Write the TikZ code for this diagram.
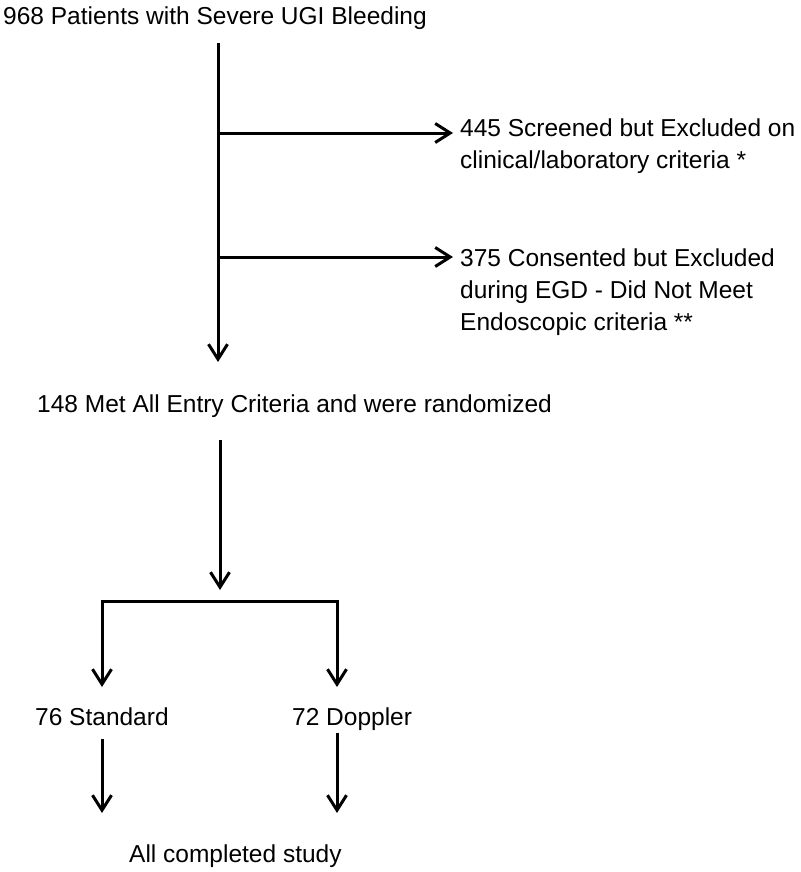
\documentclass[tikz,border=0pt]{standalone}
\usepackage{fontspec}
\setmainfont{Liberation Sans}
\usetikzlibrary{arrows.meta}
\begin{document}
\begin{tikzpicture}[x=1pt,y=-1pt,
  lbl/.style={anchor=base west,inner sep=0pt,font=\fontsize{24.5}{32}\selectfont},
  conn/.style={line width=3pt,line join=miter},
  arr/.style={conn,-{Straight Barb[length=15pt,width=19pt,line width=3pt]}},
  arrboth/.style={conn,{Straight Barb[length=15pt,width=19pt,line width=3pt]}-{Straight Barb[length=15pt,width=19pt,line width=3pt]}}]
\useasboundingbox (0,0) rectangle (800,872);
\fill[white] (0,0) rectangle (800,872);

\node[lbl] (title) at (3,25) {968 Patients with Severe UGI Bleeding};
\node[lbl] (ex1) at (460,136) {\begin{tabular}[t]{@{}l@{}}445 Screened but Excluded on\\clinical/laboratory criteria *\end{tabular}};
\node[lbl] (ex2) at (460,266) {\begin{tabular}[t]{@{}l@{}}375 Consented but Excluded\\during EGD - Did Not Meet\\Endoscopic criteria **\end{tabular}};
\node[lbl] (rand) at (37,412) {148 Met All Entry Criteria and were randomized};
\node[lbl] (std) at (35,725) {76 Standard};
\node[lbl] (dop) at (292,725) {72 Doppler};
\node[lbl] (done) at (129,862) {All completed study};

% main vertical
\coordinate (t0) at (218,43);
\coordinate (t1) at (218,362);
\coordinate (j1) at (218,133);
\coordinate (e1) at (453,133);
\coordinate (j2) at (218,257);
\coordinate (e2) at (453,257);
\draw[arr] (t0) -- (t1);
\draw[arr] (j1) -- (e1);
\draw[arr] (j2) -- (e2);

% to split
\coordinate (r0) at (220,440);
\coordinate (r1) at (220,590);
\draw[arr] (r0) -- (r1);

\coordinate (sL) at (102,601);
\coordinate (sR) at (337,601);
\coordinate (sLe) at (102,687);
\coordinate (sRe) at (337,687);
\draw[arrboth] (sLe) -- (sL) -- (sR) -- (sRe);

% lower arrows
\coordinate (lL0) at (102,739);
\coordinate (lL1) at (102,813);
\coordinate (lR0) at (337,733);
\coordinate (lR1) at (337,813);
\draw[arr] (lL0) -- (lL1);
\draw[arr] (lR0) -- (lR1);
\end{tikzpicture}
\end{document}
